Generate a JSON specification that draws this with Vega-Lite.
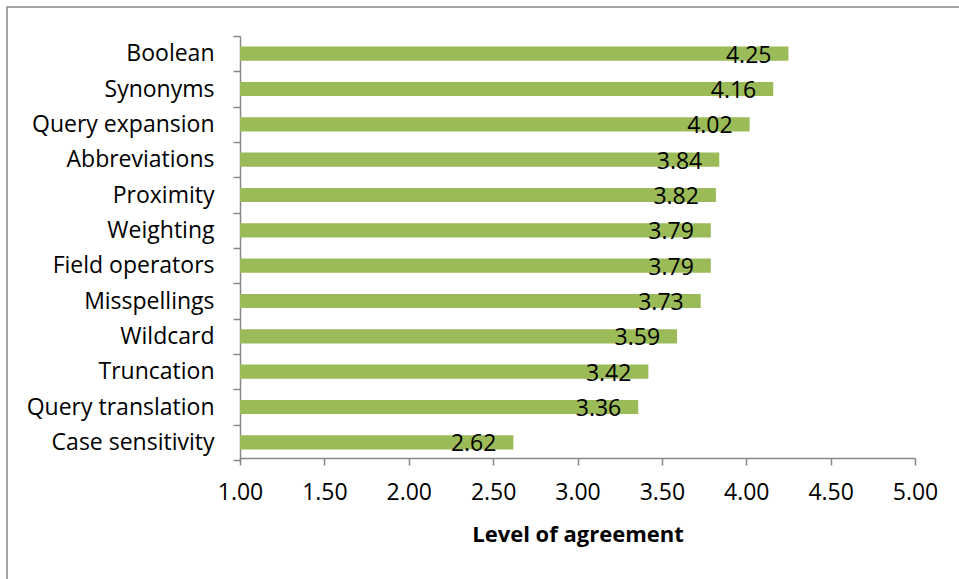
{
  "$schema": "https://vega.github.io/schema/vega-lite/v6.json",
  "width": 1000,
  "height": 600,
  "autosize": {"type": "none"},
  "padding": {"left": 7, "top": 7, "right": 0, "bottom": 0},
  "background": "white",
  "config": {
    "view": {"stroke": "#878787", "strokeWidth": 1.5},
    "font": "Open Sans"
  },
  "data": {
    "values": [
      {"feature": "Boolean", "value": 4.25},
      {"feature": "Synonyms", "value": 4.16},
      {"feature": "Query expansion", "value": 4.02},
      {"feature": "Abbreviations", "value": 3.84},
      {"feature": "Proximity", "value": 3.82},
      {"feature": "Weighting", "value": 3.79},
      {"feature": "Field operators", "value": 3.79},
      {"feature": "Misspellings", "value": 3.73},
      {"feature": "Wildcard", "value": 3.59},
      {"feature": "Truncation", "value": 3.42},
      {"feature": "Query translation", "value": 3.36},
      {"feature": "Case sensitivity", "value": 2.62}
    ]
  },
  "encoding": {
    "y": {
      "field": "feature",
      "type": "nominal",
      "sort": null,
      "scale": {"range": [29, 453], "paddingInner": 0, "paddingOuter": 0},
      "axis": {
        "title": null,
        "offset": -233,
        "tickBand": "extent",
        "domainColor": "#878787",
        "domainWidth": 1.5,
        "tickColor": "#878787",
        "tickWidth": 1.5,
        "tickSize": 7,
        "labelFontSize": 23,
        "labelColor": "#000000",
        "labelPadding": 19,
        "labelLimit": 400,
        "labelFont": "Open Sans"
      }
    }
  },
  "layer": [
    {
      "mark": {"type": "bar", "color": "#9BBB59", "height": {"band": 0.4}},
      "encoding": {
        "x": {
          "field": "value",
          "type": "quantitative",
          "scale": {"domain": [1, 5], "range": [233, 908], "nice": false, "zero": false},
          "axis": {
            "title": "Level of agreement",
            "offset": -149,
            "values": [1, 1.5, 2, 2.5, 3, 3.5, 4, 4.5, 5],
            "format": ".2f",
            "grid": false,
            "labelFlush": false,
            "labelOverlap": false,
            "domainColor": "#878787",
            "domainWidth": 1.5,
            "tickColor": "#878787",
            "tickWidth": 1.5,
            "tickSize": 7,
            "labelFontSize": 23,
            "labelColor": "#000000",
            "labelPadding": 16,
            "labelFont": "Open Sans",
            "titleFontSize": 22,
            "titleFontWeight": "bold",
            "titleColor": "#000000",
            "titleFont": "Open Sans",
            "titlePadding": 20
          }
        },
        "x2": {"datum": 1}
      }
    },
    {
      "mark": {"type": "text", "align": "right", "baseline": "middle", "dx": -17, "dy": 2, "fontSize": 23, "color": "#000000", "font": "Open Sans"},
      "encoding": {
        "x": {"field": "value", "type": "quantitative"},
        "text": {"field": "value", "type": "quantitative", "format": ".2f"}
      }
    }
  ]
}
